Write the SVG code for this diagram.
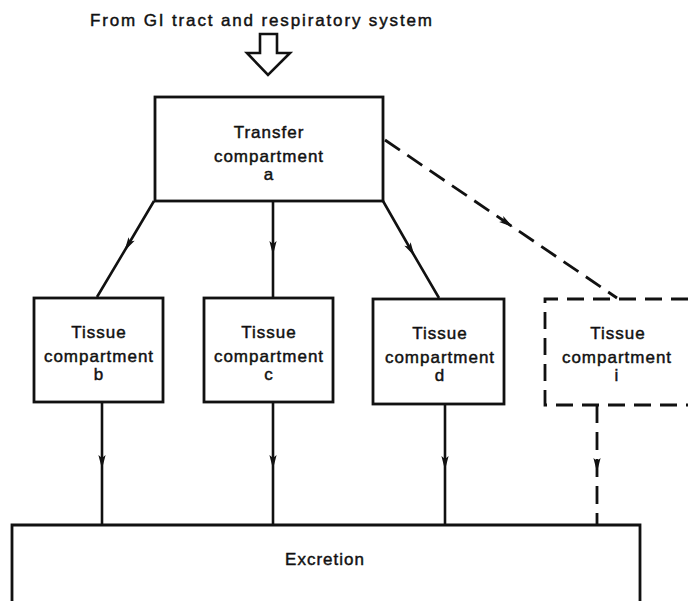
<svg xmlns="http://www.w3.org/2000/svg" width="688" height="601" viewBox="0 0 688 601">
<style>
  .box { fill: #fff; stroke: #111; stroke-width: 2.8; }
  .dbox { fill: none; stroke: #111; stroke-width: 2.8; stroke-dasharray: 17 9; }
  .line { fill: none; stroke: #111; stroke-width: 2.6; marker-mid: url(#mid); }
  .dline { fill: none; stroke: #111; stroke-width: 2.8; stroke-dasharray: 18 9; marker-mid: url(#mid); }
  .lbl { font-family: "Liberation Sans", Arial, sans-serif; font-size: 17px; letter-spacing: 1px; fill: #111; stroke: #111; stroke-width: 0.45px; text-anchor: middle; }
</style>
<defs>
  <marker id="mid" markerUnits="userSpaceOnUse" markerWidth="20" markerHeight="12" refX="0" refY="0" viewBox="-10 -6 20 12" orient="auto" overflow="visible">
    <path d="M-7,-3.6 L7,0 L-7,3.6 L-4,0 Z" fill="#111"/>
  </marker>
</defs>
<rect width="688" height="601" fill="#fff"/>

<g id="source">
  <text x="90" y="26" font-family="Liberation Sans, Arial, sans-serif" font-size="17" letter-spacing="1" fill="#111" stroke="#111" stroke-width="0.45" textLength="343" lengthAdjust="spacing">From GI tract and respiratory system</text>
  <path d="M260,34 H277 V53 H290 L268,75 L247,53 H260 Z" fill="#fff" stroke="#111" stroke-width="2.6" stroke-linejoin="miter"/>
</g>

<g id="connectors">
  <polyline class="line" points="154,201 128,245 97,297"/>
  <polyline class="line" points="273,201 273,248 273,297"/>
  <polyline class="line" points="383,201 411,250 439,298"/>
  <polyline class="dline" points="385,140 507,223 617,298"/>
  <polyline class="line" points="102,402 102,462 102,525"/>
  <polyline class="line" points="273,402 273,462 273,525"/>
  <polyline class="line" points="445,404 445,463 445,525"/>
  <polyline class="dline" points="597,405 597,465 597,525"/>
</g>

<g id="node-a">
  <rect class="box" x="155" y="97" width="228" height="104"/>
  <text class="lbl" x="269" y="138">Transfer</text>
  <text class="lbl" x="269" y="162">compartment</text>
  <text class="lbl" x="269" y="180">a</text>
</g>

<g id="node-b">
  <rect class="box" x="34" y="298" width="129" height="104"/>
  <text class="lbl" x="99" y="338">Tissue</text>
  <text class="lbl" x="99" y="362">compartment</text>
  <text class="lbl" x="99" y="380">b</text>
</g>

<g id="node-c">
  <rect class="box" x="204" y="298" width="129" height="104"/>
  <text class="lbl" x="269" y="338">Tissue</text>
  <text class="lbl" x="269" y="362">compartment</text>
  <text class="lbl" x="269" y="380">c</text>
</g>

<g id="node-d">
  <rect class="box" x="373" y="299" width="131" height="105"/>
  <text class="lbl" x="440" y="339">Tissue</text>
  <text class="lbl" x="440" y="363">compartment</text>
  <text class="lbl" x="440" y="381">d</text>
</g>

<g id="node-i">
  <path class="dbox" d="M688,299 H545 V405 H688"/>
  <text class="lbl" x="618" y="339">Tissue</text>
  <text class="lbl" x="617" y="363">compartment</text>
  <text class="lbl" x="617" y="381">i</text>
</g>

<g id="node-excretion">
  <path d="M12,601 V525 H640 V601" fill="#fff" stroke="#111" stroke-width="2.8"/>
  <text class="lbl" x="325" y="565">Excretion</text>
</g>
</svg>
